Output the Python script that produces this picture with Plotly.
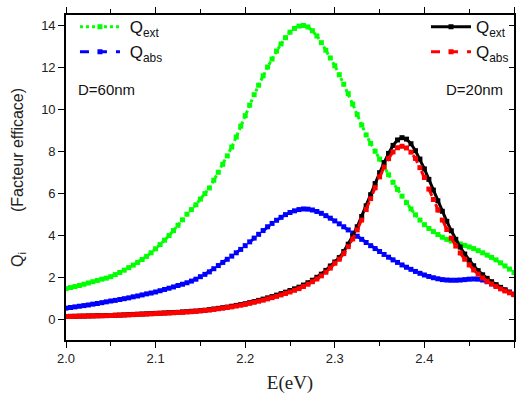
import plotly.graph_objects as go

# Energy grid (eV), step 0.005
E = [round(2.0 + 0.005 * i, 3) for i in range(101)]

# D = 60 nm
q_ext_60 = [1.45, 1.50, 1.55, 1.60, 1.66, 1.72, 1.78, 1.84, 1.90, 1.95,
            2.02, 2.12, 2.22, 2.33, 2.45, 2.57, 2.70, 2.84, 2.99, 3.16,
            3.35, 3.55, 3.76, 3.98, 4.22, 4.47, 4.73, 5.00, 5.22, 5.45,
            5.72, 5.98, 6.25, 6.62, 7.00, 7.38, 7.78, 8.20, 8.68, 9.20,
            9.70, 10.20, 10.70, 11.15, 11.60, 12.02, 12.40, 12.78, 13.12, 13.42,
            13.68, 13.86, 13.97, 14.00, 13.93, 13.75, 13.50, 13.18, 12.82, 12.45,
            12.08, 11.65, 11.20, 10.75, 10.25, 9.75, 9.25, 8.78, 8.38, 8.00,
            7.63, 7.25, 6.88, 6.52, 6.18, 5.86, 5.55, 5.25, 4.97, 4.72,
            4.50, 4.32, 4.17, 4.03, 3.90, 3.80, 3.72, 3.65, 3.58, 3.51,
            3.44, 3.36, 3.26, 3.16, 3.05, 2.94, 2.82, 2.68, 2.53, 2.38,
            2.22]
q_abs_60 = [0.52, 0.55, 0.58, 0.61, 0.64, 0.67, 0.71, 0.74, 0.78, 0.82,
            0.86, 0.89, 0.93, 0.97, 1.01, 1.06, 1.10, 1.15, 1.20, 1.24,
            1.29, 1.35, 1.41, 1.47, 1.53, 1.60, 1.66, 1.73, 1.81, 1.90,
            2.02, 2.13, 2.25, 2.40, 2.55, 2.70, 2.85, 3.00, 3.16, 3.32,
            3.50, 3.68, 3.86, 4.04, 4.22, 4.40, 4.56, 4.71, 4.85, 4.98,
            5.08, 5.16, 5.22, 5.25, 5.24, 5.20, 5.13, 5.04, 4.93, 4.81,
            4.68, 4.54, 4.40, 4.25, 4.10, 3.95, 3.80, 3.65, 3.50, 3.36,
            3.22, 3.08, 2.95, 2.82, 2.70, 2.58, 2.47, 2.37, 2.27, 2.18,
            2.10, 2.03, 1.97, 1.92, 1.88, 1.86, 1.85, 1.85, 1.86, 1.88,
            1.90, 1.91, 1.90, 1.86, 1.78, 1.68, 1.58, 1.48, 1.38, 1.28,
            1.18]

# D = 20 nm
q_ext_20 = [0.12, 0.13, 0.13, 0.14, 0.14, 0.15, 0.15, 0.16, 0.16, 0.17,
            0.17, 0.18, 0.19, 0.20, 0.21, 0.22, 0.23, 0.24, 0.25, 0.26,
            0.27, 0.28, 0.29, 0.30, 0.31, 0.32, 0.34, 0.35, 0.37, 0.38,
            0.40, 0.42, 0.45, 0.48, 0.51, 0.54, 0.57, 0.61, 0.65, 0.69,
            0.73, 0.78, 0.83, 0.89, 0.95, 1.01, 1.07, 1.14, 1.21, 1.28,
            1.36, 1.44, 1.52, 1.62, 1.73, 1.85, 1.99, 2.14, 2.32, 2.53,
            2.72, 2.93, 3.22, 3.57, 3.96, 4.40, 4.89, 5.40, 5.93, 6.46,
            6.98, 7.46, 7.90, 8.28, 8.54, 8.65, 8.58, 8.36, 8.03, 7.63,
            7.16, 6.66, 6.15, 5.64, 5.14, 4.66, 4.21, 3.80, 3.43, 3.10,
            2.80, 2.54, 2.31, 2.11, 1.94, 1.78, 1.64, 1.51, 1.39, 1.28,
            1.18]
q_abs_20 = [0.12, 0.12, 0.13, 0.13, 0.14, 0.14, 0.15, 0.15, 0.16, 0.16,
            0.17, 0.18, 0.18, 0.19, 0.20, 0.21, 0.22, 0.23, 0.24, 0.25,
            0.26, 0.27, 0.28, 0.29, 0.30, 0.31, 0.32, 0.34, 0.35, 0.37,
            0.39, 0.41, 0.43, 0.46, 0.49, 0.52, 0.55, 0.58, 0.62, 0.66,
            0.70, 0.75, 0.80, 0.85, 0.90, 0.96, 1.02, 1.08, 1.15, 1.22,
            1.29, 1.37, 1.45, 1.55, 1.66, 1.78, 1.91, 2.06, 2.23, 2.43,
            2.66, 2.85, 3.12, 3.45, 3.82, 4.25, 4.72, 5.22, 5.74, 6.26,
            6.78, 7.25, 7.65, 7.97, 8.17, 8.24, 8.16, 7.96, 7.66, 7.22,
            6.75, 6.20, 5.70, 5.20, 4.72, 4.27, 3.86, 3.48, 3.15, 2.85,
            2.58, 2.34, 2.14, 1.96, 1.80, 1.67, 1.55, 1.44, 1.34, 1.25,
            1.16]

x_ticks = [2.0, 2.1, 2.2, 2.3, 2.4, 2.5]
x_ticklabels = ["2.0", "2.1", "2.2", "2.3", "2.4", "2.5"]
y_ticks = [0, 2, 4, 6, 8, 10, 12, 14]

SANS = "Liberation Sans, Arial, sans-serif"
MS = 5

fig = go.Figure()
fig.add_trace(go.Scatter(x=E, y=q_ext_60, mode="lines+markers", name="\u00a0Q<sub>ext</sub>",
                         line=dict(color="#00ff00", width=3, dash="dot"),
                         marker=dict(symbol="square", size=MS, color="#00ff00"),
                         legend="legend"))
fig.add_trace(go.Scatter(x=E, y=q_abs_60, mode="lines+markers", name="\u00a0Q<sub>abs</sub>",
                         line=dict(color="#0000ff", width=3, dash="dash"),
                         marker=dict(symbol="square", size=MS, color="#0000ff"),
                         legend="legend"))
fig.add_trace(go.Scatter(x=E, y=q_ext_20, mode="lines+markers", name="Q<sub>ext</sub>",
                         line=dict(color="#000000", width=3),
                         marker=dict(symbol="square", size=MS, color="#000000"),
                         legend="legend2"))
fig.add_trace(go.Scatter(x=E, y=q_abs_20, mode="lines+markers", name="Q<sub>abs</sub>",
                         line=dict(color="#ff0000", width=3, dash="dash"),
                         marker=dict(symbol="square", size=MS, color="#ff0000"),
                         legend="legend2"))
# invisible trace to drive the right-hand y axis
fig.add_trace(go.Scatter(x=[E[0]], y=[q_abs_20[0]], yaxis="y2", mode="markers",
                         marker=dict(opacity=0), showlegend=False, hoverinfo="skip"))

axis_common = dict(showline=True, linecolor="black", linewidth=1.6,
                   showgrid=False, zeroline=False,
                   tickfont=dict(family=SANS, size=13, color="#222"))

fig.update_layout(
    width=523, height=397,
    margin=dict(l=66, r=7, t=13, b=54),
    paper_bgcolor="white", plot_bgcolor="white",
    showlegend=True,
    xaxis=dict(range=[2.0, 2.5], tickvals=x_ticks, ticktext=x_ticklabels,
               ticks="outside", ticklen=6, tickwidth=1.3, tickcolor="black",
               mirror="ticks",
               minor=dict(dtick=0.05, tick0=2.0, ticks="outside", ticklen=4,
                          tickwidth=1.3, tickcolor="black"),
               title=dict(text="E(eV)", font=dict(family="Liberation Serif, Times New Roman, serif",
                                                  size=19, color="#222"), standoff=10),
               **axis_common),
    yaxis=dict(range=[-1, 14.5], tickvals=y_ticks, ticks="outside", ticklen=6,
               tickwidth=1.3, tickcolor="black", mirror=True,
               title=dict(text="Q<sub>i</sub>\u00a0\u00a0\u00a0\u00a0\u00a0\u00a0\u00a0\u00a0\u00a0(Facteur efficace)",
                          font=dict(family=SANS, size=16, color="#222"), standoff=14),
               **axis_common),
    yaxis2=dict(range=[-1, 14.5], overlaying="y", side="right", tickvals=y_ticks,
                ticks="inside", ticklen=5, tickwidth=1.3, tickcolor="black",
                showticklabels=False, showgrid=False, zeroline=False, showline=False),
    legend=dict(x=0.02, y=1.018, xanchor="left", yanchor="top",
                bgcolor="rgba(0,0,0,0)", itemwidth=40, tracegroupgap=0,
                font=dict(family=SANS, size=17, color="#111")),
    legend2=dict(x=1.0, y=1.018, xanchor="right", yanchor="top",
                 bgcolor="rgba(0,0,0,0)", itemwidth=40, tracegroupgap=0,
                 font=dict(family=SANS, size=17, color="#111")),
    annotations=[
        dict(text="D=60nm", x=0.022, y=0.772, xref="paper", yref="paper",
             xanchor="left", yanchor="middle", showarrow=False,
             font=dict(family=SANS, size=15, color="#111")),
        dict(text="D=20nm", x=0.98, y=0.772, xref="paper", yref="paper",
             xanchor="right", yanchor="middle", showarrow=False,
             font=dict(family=SANS, size=15, color="#111")),
    ],
)

fig.write_html("out.html")
